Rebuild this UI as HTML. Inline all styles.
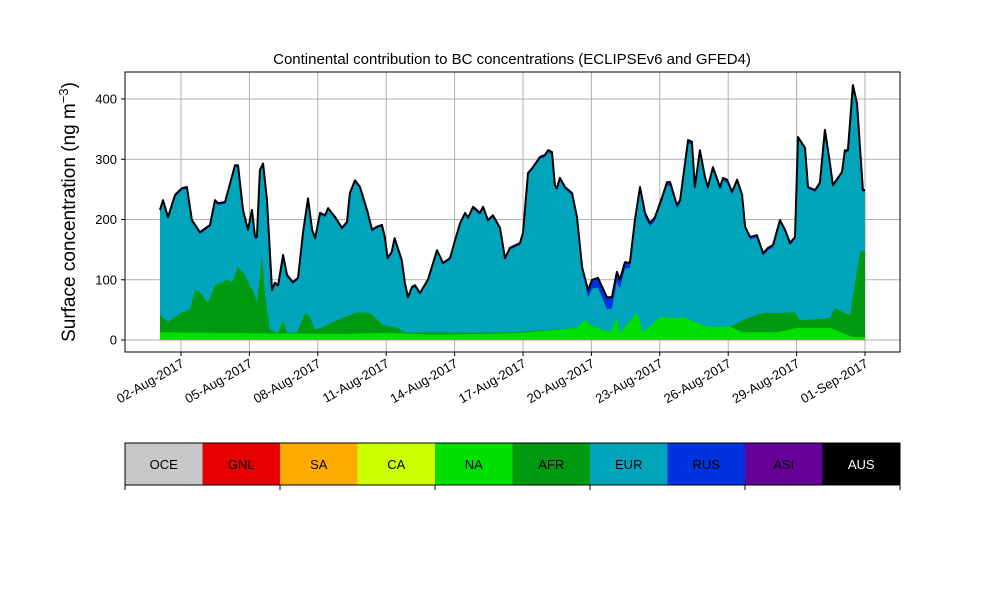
<!DOCTYPE html>
<html><head><meta charset="utf-8">
<style>
body{margin:0;background:#fff;}
svg{display:block;font-family:"Liberation Sans","DejaVu Sans",sans-serif;}
</style></head>
<body>
<svg id="chart" width="1000" height="600"></svg>
<script>
// ---- data (days since 01-Aug-2017 00:00) ----
const totalDays=[0.08,0.21,0.43,0.74,1.04,1.26,1.48,1.83,2.27,2.49,2.62,2.93,3.37,3.50,3.72,3.94,4.11,4.25,4.33,4.46,4.60,4.77,4.99,5.12,5.26,5.48,5.65,5.91,6.13,6.35,6.57,6.75,6.88,7.10,7.32,7.45,7.76,8.06,8.28,8.41,8.63,8.85,9.16,9.38,9.59,9.81,9.94,10.06,10.24,10.37,10.68,10.82,10.95,11.13,11.26,11.48,11.83,12.23,12.49,12.80,13.02,13.24,13.46,13.59,13.81,14.11,14.25,14.46,14.68,14.99,15.21,
15.43,15.87,16.0,16.22,16.44,16.75,16.96,17.10,17.27,17.40,17.49,17.62,17.84,18.15,18.37,18.59,18.85,19.03,19.29,19.68,19.90,20.12,20.25,20.47,20.69,20.91,21.13,21.35,21.57,21.79,22.10,22.32,22.45,22.75,22.89,23.24,23.41,23.54,23.76,23.98,24.11,24.33,24.64,24.77,24.95,25.17,25.39,25.61,25.74,25.96,26.26,26.53,26.75,26.97,27.27,27.49,27.71,27.93,28.06,28.37,28.50,28.81,29.02,29.24,29.46,29.59,29.99,30.12,30.25,30.47,30.65,30.91,31.0];
const totalVals=[216,232,204,241,252,254,199,179,191,232,227,229,290,290,216,183,216,171,171,282,293,232,83,95,91,141,108,96,103,178,235,183,169,211,207,219,204,186,196,244,265,254,216,183,188,191,171,136,146,169,133,95,71,88,91,78,100,149,128,136,166,194,211,203,221,211,221,199,207,186,136,
153,161,178,277,287,304,307,315,312,257,252,269,254,244,204,121,83,100,103,71,71,113,100,129,128,199,254,211,194,204,237,262,262,224,232,332,329,254,315,271,254,287,254,269,266,246,266,241,188,171,174,144,153,158,199,183,161,171,337,319,254,249,261,349,294,257,279,315,315,423,393,249,249];
const afrDays=[0.08,0.43,1.04,1.39,1.61,1.83,2.18,2.49,3.02,3.24,3.50,3.81,4.03,4.16,4.33,4.55,4.68,4.90,5.26,5.48,5.65,6.09,6.44,6.66,6.88,7.24,7.84,8.72,9.29,9.86,10.47,10.91,12.05,12.80,15.43,18.37,18.72,19.07,19.82,20.12,20.25,21.0,21.27,22.01,22.75,23.01,24.07,25.08,25.65,26.53,27.41,27.93,28.15,29.46,29.68,30.34,30.78,31.0];
const afrTop=[41,30,46,50,83,80,61,91,100,96,121,108,88,83,61,138,78,17,12,33,12,13,45,38,17,22,33,46,45,25,20,12,13,12,13,20,33,22,13,36,12,45,13,38,36,38,22,22,33,45,45,46,33,36,53,41,146,149];
const naDays=[0.08,2.0,5.0,8.0,10.0,12.0,14.0,16.0,18.37,18.72,19.07,19.82,20.12,20.25,21.0,21.27,22.01,22.75,23.01,24.07,25.08,25.65,27.14,28.02,29.46,30.47,31.0];
const naTop=[13,12,11,10,12,9,10,12,20,33,22,13,36,12,45,13,38,36,38,22,22,13,13,20,20,5,5];
const rusDays=[0,5,10,15,18.6,18.9,19.3,19.7,20.0,20.3,20.6,21.1,21.6,22.4,23.5,24.5,25.5,27,29,31];
const rusVals=[3,3,3,3,4,14,16,20,18,14,8,8,6,6,5,5,4,4,3,3];
const xTickDays=[1,4,7,10,13,16,19,22,25,28,31];
const xTickLabels=["02-Aug-2017","05-Aug-2017","08-Aug-2017","11-Aug-2017","14-Aug-2017","17-Aug-2017","20-Aug-2017","23-Aug-2017","26-Aug-2017","29-Aug-2017","01-Sep-2017"];
const yTicks=[0,100,200,300,400];
const legendNames=["OCE","GNL","SA","CA","NA","AFR","EUR","RUS","ASI","AUS"];
const legendColors=["#c8c8c8","#e60000","#ffaa00","#ccff00","#00e000","#009a10","#00a5bc","#0033dd","#660099","#000000"];

const NS="http://www.w3.org/2000/svg";
const svg=document.getElementById('chart');
const L=125,R=900,T=72,B=352;
const x=d=>158.2+d*22.8;
const y=v=>340-v*0.6025;
function mk(tag,attrs,parent){const e=document.createElementNS(NS,tag);for(const k in attrs)e.setAttribute(k,attrs[k]);(parent||svg).appendChild(e);return e;}
function interp(ds,vs,d){if(d<=ds[0])return vs[0];for(let i=1;i<ds.length;i++){if(d<=ds[i]){const f=(d-ds[i-1])/(ds[i]-ds[i-1]||1);return vs[i-1]+f*(vs[i]-vs[i-1]);}}return vs[vs.length-1];}
function areaPath(ds,vs){let p='M'+x(ds[0])+','+y(0);ds.forEach((d,i)=>p+=' L'+x(d).toFixed(1)+','+y(vs[i]).toFixed(1));p+=' L'+x(ds[ds.length-1])+','+y(0)+' Z';return p;}

// grid
const grid=mk('g',{});


xTickDays.forEach(d=>mk('line',{x1:x(d),x2:x(d),y1:T,y2:B,stroke:'#b0b0b0','stroke-width':1},grid));
yTicks.forEach(v=>mk('line',{x1:L,x2:R,y1:y(v),y2:y(v),stroke:'#b0b0b0','stroke-width':1},grid));

// areas
const rusArea=mk('path',{d:areaPath(totalDays,totalVals),fill:'#0033dd'});


const eurTop=totalDays.map((d,i)=>Math.max(0,totalVals[i]-interp(rusDays,rusVals,d)));
const eurArea=mk('path',{d:areaPath(totalDays,eurTop),fill:'#00a5bc'});


const afrArea=mk('path',{d:areaPath(afrDays,afrTop),fill:'#009a10'});


const naArea=mk('path',{d:areaPath(naDays,naTop),fill:'#00e000'});


let lp='';totalDays.forEach((d,i)=>lp+=(i?' L':'M')+x(d).toFixed(1)+','+y(totalVals[i]).toFixed(1));
const tl=mk('path',{d:lp,fill:'none',stroke:'#000','stroke-width':2,'stroke-linejoin':'round'});



// frame
const fr=mk('rect',{x:L,y:T,width:R-L,height:B-T,fill:'none',stroke:'#000','stroke-width':1});



// ticks
xTickDays.forEach((d,i)=>{
  mk('line',{x1:x(d),x2:x(d),y1:B,y2:B+4,stroke:'#000'});
  const t=mk('text',{x:x(d)+4,y:B+14,'font-size':13,'text-anchor':'end',transform:`rotate(-30 ${x(d)+4} ${B+14})`});
  t.textContent=xTickLabels[i];
  
  
});
yTicks.forEach(v=>{
  mk('line',{x1:L-4,x2:L,y1:y(v),y2:y(v),stroke:'#000'});
  const t=mk('text',{x:L-8,y:y(v)+4.5,'font-size':13,'text-anchor':'end'});
  t.textContent=v;
  
  
});
const ttl=mk('text',{x:512,y:64,'font-size':15,'text-anchor':'middle'});
ttl.textContent='Continental contribution to BC concentrations (ECLIPSEv6 and GFED4)';


const yl=mk('text',{x:75,y:212,'font-size':19,'text-anchor':'middle',transform:'rotate(-90 75 212)'});
yl.innerHTML='Surface concentration (ng m<tspan dy="-7" font-size="13">−3</tspan><tspan dy="7">)</tspan>';



// legend colorbar
const cw=(R-L)/legendNames.length;
legendNames.forEach((n,i)=>{
  const g=mk('g',{});
  
  
  mk('rect',{x:L+i*cw,y:443,width:cw,height:42,fill:legendColors[i]},g);
  const t=mk('text',{x:L+i*cw+cw/2,y:469,'font-size':13,'text-anchor':'middle',fill:n==='AUS'?'#fff':'#000'},g);
  t.textContent=n;
});
const lf=mk('rect',{x:L,y:443,width:R-L,height:42,fill:'none',stroke:'#000','stroke-width':1});


for(let i=0;i<=legendNames.length;i+=2)mk('line',{x1:L+i*cw,x2:L+i*cw,y1:485,y2:490,stroke:'#000'});
</script>
</body></html>
